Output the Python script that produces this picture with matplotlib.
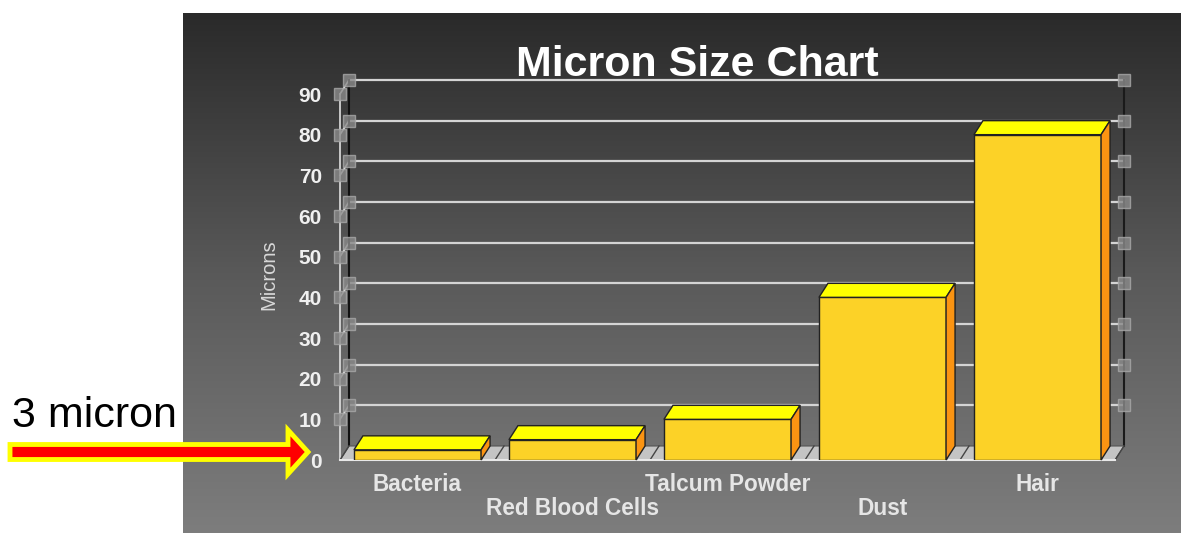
# micron size chart, old-style 3D column look
import matplotlib.pyplot as plt
import numpy as np
from matplotlib.patches import Polygon, FancyArrow
from matplotlib.colors import LinearSegmentedColormap

plt.rcParams['font.family'] = ['Liberation Sans', 'DejaVu Sans']

categories = ['Bacteria', 'Red Blood Cells', 'Talcum Powder', 'Dust', 'Hair']
microns = [2.5, 5, 10, 40, 80]
y_ticks = [0, 10, 20, 30, 40, 50, 60, 70, 80, 90]
label_rows = [0, 1, 0, 1, 0]

W, H = 1181, 533
fig = plt.figure(figsize=(W / 100, H / 100), dpi=100)
fig.patch.set_facecolor('white')

# background panel with gradient, in pixel coords
bg = fig.add_axes([0, 0, 1, 1])
grad = np.linspace(0, 1, 256).reshape(-1, 1)
cmap = LinearSegmentedColormap.from_list('panel', ['#2a2a2a', '#595959', '#7d7d7d'])
bg.imshow(grad, extent=[183, W, H, 13], cmap=cmap, aspect='auto')
bg.set_xlim(0, W)
bg.set_ylim(H, 0)
bg.axis('off')

bg.text(697, 76, 'Micron Size Chart', ha='center', va='baseline',
        fontsize=31, fontweight='bold', color='white')
bg.text(12, 427, '3 micron', ha='left', va='baseline', fontsize=31, color='black')
bg.add_patch(FancyArrow(10, 452, 298, 0, width=15, head_width=44, head_length=20,
                        length_includes_head=True, fc='red', ec='yellow', lw=3.5))

# chart axes: front plane of the 3D box
ax = fig.add_axes([340 / W, 73 / H, 775 / W, 366 / H])
ax.patch.set_visible(False)
ax.set_xlim(-0.5, len(categories) - 0.5)
ax.set_ylim(0, 90)
for s in ax.spines.values():
    s.set_visible(False)

dx = 9 / 155.0          # depth offset in data units
dy = 14 / (366 / 90.0)
x_lo, x_hi = -0.5, len(categories) - 0.5

# back wall gridlines
for v in y_ticks[1:]:
    ax.plot([x_lo + dx, x_hi + dx], [v + dy, v + dy], color='#d4d4d4', lw=1.6, clip_on=False, zorder=1)
    ax.plot([x_lo, x_lo + dx], [v, v + dy], color='#e8e8e8', lw=1.2, clip_on=False, zorder=2)
    for px, py in [(x_hi + dx, v + dy), (x_lo + dx, v + dy), (x_lo, v)]:
        ax.plot([px], [py], marker='s', ms=9, color='#8a8a8a', mec='#a8a8a8',
                alpha=0.8, clip_on=False, zorder=3)

# wall edges
ax.plot([x_lo + dx, x_lo + dx], [dy, 90 + dy], color='#111111', lw=1.5, clip_on=False, zorder=2)
ax.plot([x_hi + dx, x_hi + dx], [dy, 90 + dy], color='#1a1a1a', lw=1.5, clip_on=False, zorder=2)
ax.plot([x_lo, x_lo], [0, 90], color='#e0e0e0', lw=1.2, clip_on=False, zorder=2)

# floor
floor = Polygon([(x_lo, 0), (x_hi, 0), (x_hi + dx, dy), (x_lo + dx, dy)],
                closed=True, fc='#c4c4c4', ec='#555555', lw=0.8, clip_on=False, zorder=4)
ax.add_patch(floor)
for k in range(len(categories) + 1):
    xb = x_lo + k
    ax.plot([xb, xb + dx], [0, dy], color='#444444', lw=1, clip_on=False, zorder=4)
ax.plot([x_lo, x_hi], [0, 0], color='#e8e8e8', lw=1.5, clip_on=False, zorder=4)

# bars
bw = 0.82
xs = np.arange(len(categories))
ax.bar(xs, microns, width=bw, color='#fcd227', edgecolor='#222222', lw=1, zorder=6)
for x, h in zip(xs, microns):
    x0, x1 = x - bw / 2, x + bw / 2
    top = Polygon([(x0, h), (x1, h), (x1 + dx, h + dy), (x0 + dx, h + dy)],
                  fc='#ffff00', ec='#222222', lw=1, clip_on=False, zorder=6)
    side = Polygon([(x1, 0), (x1, h), (x1 + dx, h + dy), (x1 + dx, dy)],
                   fc='#fb9412', ec='#222222', lw=1, clip_on=False, zorder=6)
    ax.add_patch(top)
    ax.add_patch(side)

# axis labels
ax.set_yticks(y_ticks)
ax.set_yticklabels([str(v) for v in y_ticks], fontsize=15, fontweight='bold', color='#f0f0f0')
ax.tick_params(axis='y', length=0, pad=13)
ax.set_xticks([])
ax.set_ylabel('Microns', fontsize=14.5, color='#d8d8d8')
ax.yaxis.set_label_coords(-0.079, 0.505)

trans = ax.get_xaxis_transform()
for x, name, row in zip(xs, categories, label_rows):
    ax.text(x, -0.066 - 0.066 * row, name, transform=trans, ha='center', va='center',
            fontsize=16.3, fontweight='bold', color='#e6e6e6')

plt.savefig('out.png', dpi=100)
